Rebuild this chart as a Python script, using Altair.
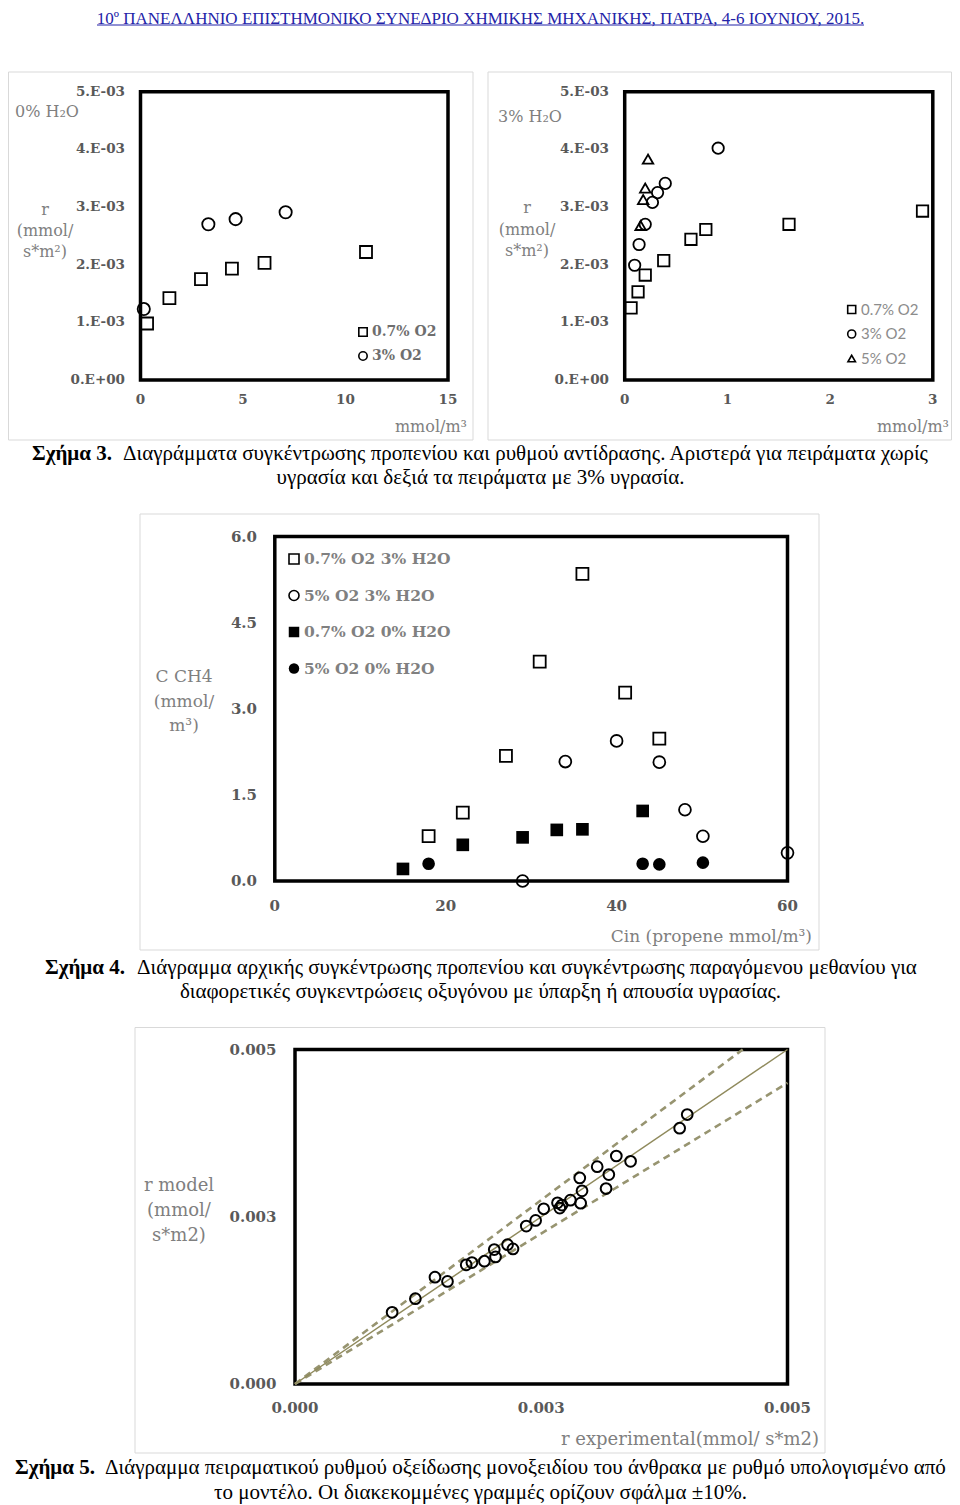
import altair as alt
import pandas as pd

# ---------------- data ----------------
# Figure 3, left panel (0% H2O)
f3l_sq_x = [0.32, 1.41, 2.95, 4.46, 6.05, 11.0]
f3l_sq_y = [0.98e-3, 1.42e-3, 1.75e-3, 1.93e-3, 2.03e-3, 2.22e-3]
f3l_ci_x = [0.16, 3.31, 4.64, 7.08]
f3l_ci_y = [1.23e-3, 2.70e-3, 2.79e-3, 2.91e-3]
# Figure 3, right panel (3% H2O)
f3r_sq_x = [0.062, 0.13, 0.20, 0.38, 0.645, 0.79, 1.60, 2.90]
f3r_sq_y = [1.25e-3, 1.53e-3, 1.82e-3, 2.07e-3, 2.44e-3, 2.61e-3, 2.70e-3, 2.93e-3]
f3r_ci_x = [0.097, 0.14, 0.20, 0.27, 0.32, 0.395, 0.91]
f3r_ci_y = [1.99e-3, 2.35e-3, 2.70e-3, 3.08e-3, 3.25e-3, 3.41e-3, 4.02e-3]
f3r_tr_x = [0.155, 0.18, 0.20, 0.227]
f3r_tr_y = [2.68e-3, 3.13e-3, 3.33e-3, 3.83e-3]
f3_yticks = [0, 1e-3, 2e-3, 3e-3, 4e-3, 5e-3]
f3_ylabels = ["0.E+00", "1.E-03", "2.E-03", "3.E-03", "4.E-03", "5.E-03"]
f3l_xticks = [0, 5, 10, 15]
f3r_xticks = [0, 1, 2, 3]
f3l_legend = ["0.7% O2", "3% O2"]
f3r_legend = ["0.7% O2", "3% O2", "5% O2"]

# Figure 4
f4_osq_x = [18.0, 22.0, 27.05, 31.0, 36.0, 41.0, 45.0]
f4_osq_y = [0.78, 1.19, 2.18, 3.82, 5.35, 3.28, 2.48]
f4_oci_x = [29.0, 34.0, 40.0, 45.0, 48.0, 50.1, 60.0]
f4_oci_y = [0.0, 2.08, 2.44, 2.07, 1.24, 0.78, 0.49]
f4_fsq_x = [15.0, 22.0, 29.0, 33.0, 36.0, 43.05]
f4_fsq_y = [0.21, 0.63, 0.76, 0.89, 0.90, 1.22]
f4_fci_x = [18.0, 43.05, 45.0, 50.1]
f4_fci_y = [0.30, 0.30, 0.29, 0.32]
f4_yticks = [0.0, 1.5, 3.0, 4.5, 6.0]
f4_xticks = [0, 20, 40, 60]
f4_legend = ["0.7% O2 3% H2O", "5% O2 3% H2O", "0.7% O2 0% H2O", "5% O2 0% H2O"]

# Figure 5
f5_x = [0.986e-3, 1.222e-3, 1.421e-3, 1.548e-3, 1.738e-3, 1.796e-3, 1.923e-3,
        2.023e-3, 2.036e-3, 2.158e-3, 2.213e-3, 2.348e-3, 2.443e-3, 2.525e-3,
        2.665e-3, 2.688e-3, 2.710e-3, 2.796e-3, 2.891e-3, 2.914e-3, 2.900e-3,
        3.068e-3, 3.186e-3, 3.158e-3, 3.262e-3, 3.407e-3, 3.905e-3, 3.982e-3]
f5_y = [1.071e-3, 1.275e-3, 1.597e-3, 1.533e-3, 1.781e-3, 1.815e-3, 1.835e-3,
        2.009e-3, 1.900e-3, 2.083e-3, 2.019e-3, 2.361e-3, 2.445e-3, 2.619e-3,
        2.708e-3, 2.629e-3, 2.674e-3, 2.748e-3, 3.080e-3, 2.887e-3, 2.703e-3,
        3.249e-3, 3.130e-3, 2.922e-3, 3.408e-3, 3.328e-3, 3.824e-3, 4.028e-3]
f5_ticks = [0.0, 0.0025, 0.005]
f5_line_x_end = [0.005]
f5_line_y_end = [0.005]
f5_dash_x_end = [0.005 / 1.1, 0.005]
f5_dash_y_end = [0.005, 0.0045]

header = "10º ΠΑΝΕΛΛΗΝΙΟ ΕΠΙΣΤΗΜΟΝΙΚΟ ΣΥΝΕΔΡΙΟ ΧΗΜΙΚΗΣ ΜΗΧΑΝΙΚΗΣ, ΠΑΤΡΑ, 4-6 ΙΟΥΝΙΟΥ, 2015."
cap3_bold = "Σχήμα 3."
cap3_l1 = "Διαγράμματα συγκέντρωσης προπενίου και ρυθμού αντίδρασης. Αριστερά για πειράματα χωρίς"
cap3_l2 = "υγρασία και δεξιά τα πειράματα με 3% υγρασία."
cap4_bold = "Σχήμα 4."
cap4_l1 = "Διάγραμμα αρχικής συγκέντρωσης προπενίου και συγκέντρωσης παραγόμενου μεθανίου για"
cap4_l2 = "διαφορετικές συγκεντρώσεις οξυγόνου με ύπαρξη ή απουσία υγρασίας."
cap5_bold = "Σχήμα 5."
cap5_l1 = "Διάγραμμα πειραματικού ρυθμού οξείδωσης μονοξειδίου του άνθρακα με ρυθμό υπολογισμένο από"
cap5_l2 = "το μοντέλο. Οι διακεκομμένες γραμμές ορίζουν σφάλμα ±10%."

# ---------------- styling ----------------
SERIF = "DejaVu Serif"
TIMES = "Liberation Serif"
TICK_C = "#595959"
TITLE_C = "#7f7f7f"


def sc(domain, rng):
    return alt.Scale(domain=domain, range=rng, nice=False, zero=False)


def one(**kw):
    return pd.DataFrame([kw])


def points(xs, ys, xsc, ysc, shape, size, filled=False, sw=1.8):
    df = pd.DataFrame({"x": xs, "y": ys})
    return alt.Chart(df).mark_point(
        shape=shape, size=size, filled=filled, color="black",
        strokeWidth=0 if filled else sw, opacity=1
    ).encode(x=alt.X("x:Q", scale=xsc, axis=None), y=alt.Y("y:Q", scale=ysc, axis=None))


def plot_frame(xsc, ysc, xd, yd, sw=3.5):
    df = one(x0=xd[0], x1=xd[1], y0=yd[0], y1=yd[1])
    return alt.Chart(df).mark_rect(filled=False, color="black", strokeWidth=sw).encode(
        x=alt.X("x0:Q", scale=xsc, axis=None), x2="x1:Q",
        y=alt.Y("y0:Q", scale=ysc, axis=None), y2="y1:Q")


def ylabels(vals, xsc, ysc, xpx, size, labels=None, fmt=None):
    df = pd.DataFrame({"v": vals})
    if labels is not None:
        df["t"] = labels
        txt = alt.Text("t:N")
    else:
        txt = alt.Text("v:Q", format=fmt)
    return alt.Chart(df).mark_text(
        align="right", baseline="middle", font=SERIF, fontSize=size,
        fontWeight="bold", color=TICK_C
    ).encode(x=alt.value(xpx), y=alt.Y("v:Q", scale=ysc, axis=None), text=txt)


def xlabels(vals, xsc, ysc, ypx, size, fmt=None):
    df = pd.DataFrame({"v": vals})
    txt = alt.Text("v:Q", format=fmt) if fmt else alt.Text("v:Q")
    return alt.Chart(df).mark_text(
        align="center", baseline="middle", font=SERIF, fontSize=size,
        fontWeight="bold", color=TICK_C
    ).encode(x=alt.X("v:Q", scale=xsc, axis=None), y=alt.value(ypx), text=txt)


def label(text, x, y, size, align="left", font=SERIF, weight="normal", color=TITLE_C, baseline="middle"):
    return alt.Chart(one(t=text)).mark_text(
        align=align, baseline=baseline, font=font, fontSize=size,
        fontWeight=weight, color=color
    ).encode(x=alt.value(x), y=alt.value(y), text="t:N")


def lines_text(texts, x, ys, size, align="center", font=SERIF, weight="normal", color=TITLE_C):
    df = pd.DataFrame({"t": texts, "yy": ys})
    return alt.Chart(df).mark_text(
        align=align, baseline="middle", font=font, fontSize=size,
        fontWeight=weight, color=color
    ).encode(x=alt.value(x), y=alt.Y("yy:Q", scale=alt.Scale(domain=[0, 1497], range=[0, 1497]), axis=None), text="t:N")


def legend_sym(x, y, shape, size, filled=False, sw=1.6):
    return alt.Chart(one(a=1)).mark_point(
        shape=shape, size=size, filled=filled, color="black",
        strokeWidth=0 if filled else sw, opacity=1
    ).encode(x=alt.value(x), y=alt.value(y))


def box(x0, x1, y0, y1, color="#d9d9d9"):
    return alt.Chart(one(a=1)).mark_rect(filled=False, color=color, strokeWidth=1).encode(
        x=alt.value(x0), x2=alt.value(x1), y=alt.value(y0), y2=alt.value(y1))


# ---------------- Figure 3 left ----------------
xl = sc([0, 15], [132.5, 440])
yl = sc([0, 5e-3], [372, 83.7])
fig3l = alt.layer(
    plot_frame(xl, yl, [0, 15], [0, 5e-3]),
    points(f3l_sq_x, f3l_sq_y, xl, yl, "square", 144),
    points(f3l_ci_x, f3l_ci_y, xl, yl, "circle", 150),
    ylabels(f3_yticks, xl, yl, 117, 13.5, labels=f3_ylabels),
    xlabels(f3l_xticks, xl, yl, 392, 13.5),
)
fig3l_dec = alt.layer(
    box(0.5, 465, 64, 432),
    label("0% H₂O", 7, 104, 16),
    lines_text(["r", "(mmol/", "s*m²)"], 37, [202, 223, 244], 16),
    label("mmol/m³", 459, 419, 16, align="right"),
    legend_sym(355, 324, "square", 70),
    legend_sym(355, 348, "circle", 70),
    lines_text(f3l_legend, 364, [324, 348], 14, align="left", weight="bold", color="#6e6e6e"),
)

# ---------------- Figure 3 right ----------------
xr = sc([0, 3], [616.7, 924.8])
yr = sc([0, 5e-3], [372, 83.7])
fig3r = alt.layer(
    plot_frame(xr, yr, [0, 3], [0, 5e-3]),
    points(f3r_sq_x, f3r_sq_y, xr, yr, "square", 130),
    points(f3r_ci_x, f3r_ci_y, xr, yr, "circle", 130),
    points(f3r_tr_x, f3r_tr_y, xr, yr, "triangle-up", 110),
    ylabels(f3_yticks, xr, yr, 601, 13.5, labels=f3_ylabels),
    xlabels(f3r_xticks, xr, yr, 392, 13.5),
)
fig3r_dec = alt.layer(
    box(480, 943.5, 64, 432),
    label("3% H₂O", 490, 109, 16),
    lines_text(["r", "(mmol/", "s*m²)"], 519, [200, 222, 243], 16),
    label("mmol/m³", 941, 419, 16, align="right"),
    legend_sym(843.7, 301.5, "square", 64),
    legend_sym(843.7, 326, "circle", 64),
    legend_sym(843.7, 350.5, "triangle-up", 56),
    lines_text(f3r_legend, 853, [301.5, 326, 350.5], 15, align="left", font="Lato", color="#8c8c8c"),
)

# ---------------- Figure 4 ----------------
x4 = sc([0, 60], [266.8, 779.5])
y4 = sc([0, 6], [873, 528.5])
fig4 = alt.layer(
    plot_frame(x4, y4, [0, 60], [0, 6]),
    points(f4_osq_x, f4_osq_y, x4, y4, "square", 144),
    points(f4_oci_x, f4_oci_y, x4, y4, "circle", 140),
    points(f4_fsq_x, f4_fsq_y, x4, y4, "square", 160, filled=True),
    points(f4_fci_x, f4_fci_y, x4, y4, "circle", 160, filled=True),
    ylabels(f4_yticks, x4, y4, 249, 15, fmt=".1f"),
    xlabels(f4_xticks, x4, y4, 898, 15),
)
fig4_dec = alt.layer(
    box(132, 811, 506, 942),
    lines_text(["C CH4", "(mmol/", "m³)"], 176, [669, 694, 718], 17),
    label("Cin (propene mmol/m³)", 804, 929, 17, align="right"),
    legend_sym(286, 551, "square", 100),
    legend_sym(286, 587.5, "circle", 100),
    legend_sym(286, 624, "square", 110, filled=True),
    legend_sym(286, 660.5, "circle", 110, filled=True),
    lines_text(f4_legend, 296, [551, 587.5, 624, 660.5], 15.5, align="left", weight="bold", color="#808080"),
)

# ---------------- Figure 5 ----------------
x5 = sc([0, 0.005], [287, 779.5])
y5 = sc([0, 0.005], [1376, 1041.5])
solid_df = pd.DataFrame({"x": [0.0] + f5_line_x_end, "y": [0.0] + f5_line_y_end})
dash_rows = []
for i, (xe, ye) in enumerate(zip(f5_dash_x_end, f5_dash_y_end)):
    dash_rows.append({"x": 0.0, "y": 0.0, "k": i})
    dash_rows.append({"x": xe, "y": ye, "k": i})
dash_df = pd.DataFrame(dash_rows)
fig5 = alt.layer(
    plot_frame(x5, y5, [0, 0.005], [0, 0.005]),
    alt.Chart(dash_df).mark_line(color="#979470", strokeWidth=2.6, strokeDash=[7, 5]).encode(
        x=alt.X("x:Q", scale=x5, axis=None), y=alt.Y("y:Q", scale=y5, axis=None), detail="k:N"),
    alt.Chart(solid_df).mark_line(color="#8f8a5c", strokeWidth=1.5).encode(
        x=alt.X("x:Q", scale=x5, axis=None), y=alt.Y("y:Q", scale=y5, axis=None)),
    points(f5_x, f5_y, x5, y5, "circle", 115, sw=2),
    ylabels(f5_ticks, x5, y5, 268.5, 15, fmt=".3f"),
    xlabels(f5_ticks, x5, y5, 1400, 15, fmt=".3f"),
)
fig5_dec = alt.layer(
    box(127, 817, 1019.5, 1445),
    lines_text(["r model", "(mmol/", "s*m2)"], 171, [1178, 1203, 1228], 18),
    label("r experimental(mmol/ s*m2)", 811, 1432, 18, align="right"),
)

# ---------------- page text ----------------
BLUE = "#2323a8"
page_text = alt.layer(
    label(header, 472.5, 3, 17, align="center", font=TIMES, color=BLUE, baseline="top"),
    alt.Chart(one(a=1)).mark_rule(color=BLUE, strokeWidth=1).encode(
        x=alt.value(89), x2=alt.value(856), y=alt.value(17)),
    label(cap3_bold, 24, 446, 21, font=TIMES, weight="bold", color="black"),
    label(cap3_l1, 115, 446, 21, font=TIMES, color="black"),
    label(cap3_l2, 472.5, 470, 21, align="center", font=TIMES, color="black"),
    label(cap4_bold, 37, 960, 21, font=TIMES, weight="bold", color="black"),
    label(cap4_l1, 129, 960, 21, font=TIMES, color="black"),
    label(cap4_l2, 472.5, 984, 21, align="center", font=TIMES, color="black"),
    label(cap5_bold, 7, 1460, 21, font=TIMES, weight="bold", color="black"),
    label(cap5_l1, 97, 1460, 21, font=TIMES, color="black"),
    label(cap5_l2, 472.5, 1485, 21, align="center", font=TIMES, color="black"),
)

chart = alt.layer(
    fig3l_dec, fig3l, fig3r_dec, fig3r, fig4_dec, fig4, fig5_dec, fig5, page_text
).resolve_scale(x="independent", y="independent").properties(
    width=944, height=1497, padding=0,
    autosize=alt.AutoSizeParams(type="none"),
).configure_view(strokeWidth=0)

chart.save("out.html", embed_options={"renderer": "svg", "actions": False})
